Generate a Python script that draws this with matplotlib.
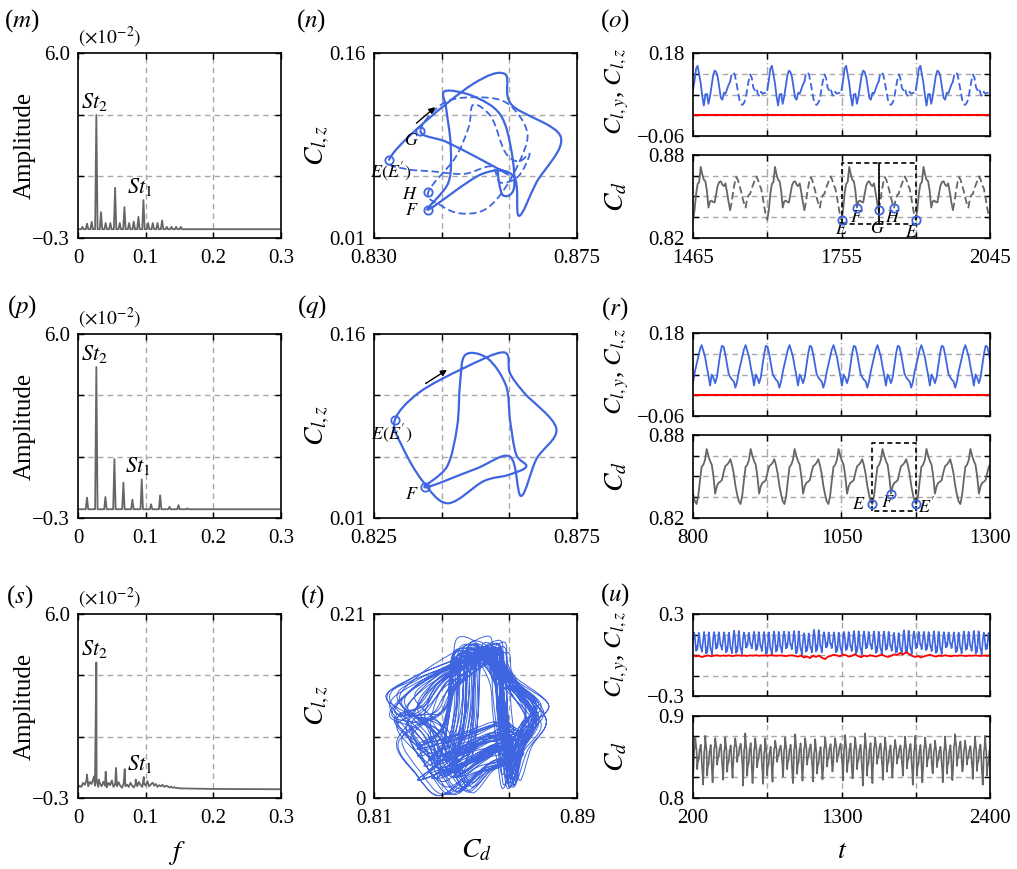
import numpy as np
import matplotlib.pyplot as plt
from matplotlib.path import Path
from matplotlib.patches import PathPatch

plt.rcParams['font.family'] = ['Liberation Serif', 'DejaVu Serif']
plt.rcParams['mathtext.fontset'] = 'stix'

blue = '#3f66e0'
grey = '#666666'
gridc = '#a8a8a8'

# ---------------- data ----------------
# (m) spectrum peaks, amplitude in units of 1e-2
f_m = [0.0064, 0.0133, 0.0202, 0.0271, 0.0340, 0.0409, 0.0478, 0.0548, 0.0617, 0.0686, 0.0755,
       0.0824, 0.0893, 0.0967, 0.1036, 0.1105, 0.1174, 0.1243, 0.1312, 0.1381, 0.1450, 0.1519]
a_m = [0.08, 0.19, 0.25, 3.89, 0.58, 0.21, 0.21, 1.41, 0.21, 0.75, 0.21,
       0.26, 0.42, 0.99, 0.21, 0.21, 0.21, 0.30, 0.08, 0.08, 0.08, 0.08]
# (p)
f_p = [0.0133, 0.0271, 0.0405, 0.0538, 0.0671, 0.0804, 0.0942, 0.1080, 0.1214, 0.1352, 0.1485, 0.1618]
a_p = [0.40, 4.87, 0.42, 1.72, 0.91, 0.33, 1.02, 0.17, 0.48, 0.08, 0.14, 0.03]
# (s) noise floor every 0.0025 from f = 0, plus the peaks
floor_s = [0.05, 0.12, 0.08, 0.22, 0.15, 0.30, 0.10, 0.25, 0.18, 0.35, 0.12, 0.28, 0.08, 0.20, 0.10,
           0.26, 0.12, 0.06, 0.22, 0.14, 0.30, 0.08, 0.18, 0.10, 0.24, 0.12, 0.05, 0.20, 0.10, 0.16,
           0.08, 0.22, 0.12, 0.06, 0.18, 0.10, 0.25, 0.14, 0.08, 0.20, 0.12, 0.28, 0.10, 0.16, 0.22,
           0.12, 0.18, 0.08, 0.14, 0.10, 0.15, 0.08, 0.12, 0.10, 0.06, 0.09, 0.05, 0.07, 0.04, 0.05, 0.03]
f_s = [0.0133, 0.0237, 0.0271, 0.0306, 0.0409, 0.0562, 0.0691, 0.0853, 0.0972, 0.1110]
a_s = [0.50, 0.44, 4.34, 0.33, 0.60, 0.73, 0.69, 0.33, 0.42, 0.21]

# (n)/(o): one period E -> G -> E' (T = 145), 48 samples
T_o = 145.0
clz_o = [0.073, 0.100, 0.135, 0.143, 0.118, 0.092, 0.055, 0.028, 0.060, 0.062, 0.033, 0.055,
         0.085, 0.115, 0.129, 0.125, 0.110, 0.080, 0.050, 0.045, 0.065, 0.062, 0.075, 0.088,
         0.0968, 0.120, 0.124, 0.118, 0.095, 0.070, 0.045, 0.032, 0.030, 0.036, 0.047, 0.075,
         0.100, 0.118, 0.108, 0.080, 0.072, 0.078, 0.060, 0.055, 0.068, 0.062, 0.064, 0.066]
cd_o = [0.8333, 0.8400, 0.8520, 0.8590, 0.8605, 0.8714, 0.8660, 0.8621, 0.8610, 0.8540, 0.8420, 0.8465,
        0.8470, 0.8460, 0.8457, 0.8520, 0.8580, 0.8605, 0.8610, 0.8585, 0.8575, 0.8595, 0.8530, 0.8460,
        0.8403, 0.8457, 0.8540, 0.8600, 0.8640, 0.8620, 0.8580, 0.8540, 0.8490, 0.8450, 0.8420, 0.8480,
        0.8510, 0.8520, 0.8560, 0.8590, 0.8620, 0.8645, 0.8620, 0.8580, 0.8560, 0.8500, 0.8430, 0.8370]
iF_o, iG_o, iH_o = 10, 24, 34

# (q)/(r): one period E -> E' (T = 74), 26 samples
T_r = 74.0
clz_r = [0.0895, 0.112, 0.132, 0.145, 0.128, 0.112, 0.083, 0.058, 0.028, 0.060, 0.050, 0.035, 0.052,
         0.085, 0.120, 0.143, 0.140, 0.118, 0.090, 0.062, 0.052, 0.045, 0.040, 0.022, 0.040, 0.068]
cd_r = [0.8301, 0.8360, 0.8470, 0.8570, 0.8585, 0.8620, 0.8699, 0.8650, 0.8612, 0.8585, 0.8500, 0.8376, 0.8430,
        0.8455, 0.8462, 0.8475, 0.8530, 0.8575, 0.8585, 0.8600, 0.8625, 0.8580, 0.8520, 0.8432, 0.8370, 0.8320]
iF_r = 11

# (t)/(u): every cycle of the (r) period with its own amplitude and level
cd_gain = [1.2, 1.5, 1.0, 1.3, 0.9, 1.6, 1.1, 1.4, 0.8, 1.2, 1.5, 1.0, 1.3, 1.1, 0.9, 1.4,
           1.2, 1.6, 1.0, 1.3, 0.9, 1.2, 1.5, 1.1, 1.0, 1.4, 1.2, 0.9, 1.3, 1.5, 1.1]
cd_shift = [0.0, -0.004, 0.003, -0.002, 0.005, -0.003, 0.001, -0.005, 0.004, 0.0, -0.002, 0.003,
            -0.004, 0.002, 0.005, -0.001, 0.0, -0.003, 0.004, -0.002, 0.003, 0.001, -0.004, 0.002,
            0.0, -0.003, 0.004, 0.002, -0.001, -0.004, 0.001]
clz_gain = [1.15, 1.35, 1.05, 1.25, 1.4, 0.95, 1.15, 1.35, 1.25, 1.05, 1.4, 1.15, 1.35, 0.95, 1.25, 1.15,
            1.4, 1.05, 1.35, 1.15, 1.25, 1.4, 1.05, 1.15, 1.35, 0.95, 1.25, 1.15, 1.4, 1.05, 1.35]
clz_shift = [0.005, -0.004, 0.015, 0.0, 0.002, 0.018, 0.010, -0.004, 0.005, 0.018, 0.0, 0.0, 0.012,
             0.020, 0.0, 0.010, 0.0, 0.018, 0.0, 0.012, -0.004, 0.004, 0.018, 0.010, 0.0, 0.020,
             0.0, 0.012, 0.0, 0.010, 0.004]
cly_u = [-0.004, -0.010, -0.006, -0.015, -0.008, -0.003, -0.009, -0.005, -0.002, -0.007,
         -0.004, -0.006, -0.003, -0.008, -0.005, -0.002, -0.006, -0.004, -0.007, -0.003,
         -0.005, -0.002, -0.006, -0.004, -0.003, -0.005, -0.002, -0.004, -0.006, -0.003,
         -0.005, -0.008, -0.004, -0.002, -0.007, -0.012, -0.004, -0.018, -0.010, -0.022,
         -0.006, -0.014, -0.004, -0.020, -0.030, -0.012, -0.006, 0.002, -0.004, -0.010,
         0.004, -0.002, -0.012, -0.006, 0.006, -0.008, -0.016, -0.004, -0.010, -0.002,
         -0.006, -0.012, -0.004, 0.002, -0.008, -0.014, -0.006, 0.004, 0.000, 0.014,
         0.004, 0.020, 0.008, -0.006, -0.014, -0.008, -0.018, -0.010, -0.004, 0.002,
         -0.006, -0.012, -0.004, -0.008, -0.002, -0.006, -0.010, -0.004, -0.007, -0.003,
         -0.005, -0.008, -0.004, -0.006, -0.003, -0.005, -0.007, -0.004, -0.006, -0.005]

# ---------------- figure ----------------
W, H = 1017, 869
fig = plt.figure(figsize=(W / 100, H / 100), dpi=100)


def axes_px(x0, y0, x1, y1):
    return fig.add_axes([x0 / W, 1 - y1 / H, (x1 - x0) / W, (y1 - y0) / H])


def frame(ax, xlim, ylim, nx, ny, xlab, ylab, vls=(0, (4, 3))):
    xt = np.linspace(xlim[0], xlim[1], nx + 1)
    yt = np.linspace(ylim[0], ylim[1], ny + 1)
    for v in xt[1:-1]:
        ax.axvline(v, color=gridc, ls=vls, lw=1.0, zorder=0)
    for v in yt[1:-1]:
        ax.axhline(v, color=gridc, ls=(0, (4, 3)), lw=1.0, zorder=0)
    ax.set_xlim(xlim)
    ax.set_ylim(ylim)
    ax.set_xticks(xt)
    ax.set_yticks(yt)
    ax.set_xticklabels(xlab)
    ax.set_yticklabels(ylab)
    ax.tick_params(direction='in', top=True, right=True, length=4, width=1, labelsize=15, pad=6)
    ax.tick_params(axis='x', pad=8)
    for s in ax.spines.values():
        s.set_linewidth(1.2)


def ftext(x, y, s, size=18, rot=0):
    fig.text(x / W, 1 - y / H, s, fontsize=size, rotation=rot, ha='center', va='center')


def mark(ax, x, y, label, dx, dy):
    ax.plot(x, y, 'o', mfc='none', mec=blue, ms=6, mew=1.3, zorder=5)
    ax.annotate(label, (x, y), xytext=(dx, dy), textcoords='offset pixels',
                ha='center', va='center', fontsize=13)


def smooth(ax, x, y, segs, closed, **kw):
    # draw the points joined by Catmull-Rom curves (the curve passes through every point)
    P = np.column_stack([x, y])
    n = len(P)

    def pt(i):
        return P[i % n] if closed else P[min(max(i, 0), n - 1)]
    verts = [pt(segs[0])]
    codes = [Path.MOVETO]
    for i in segs:
        p0, p1, p2, p3 = pt(i - 1), pt(i), pt(i + 1), pt(i + 2)
        verts += [p1 + (p2 - p0) / 6, p2 - (p3 - p1) / 6, p2]
        codes += [Path.CURVE4] * 3
    ax.add_patch(PathPatch(Path(verts, codes), fill=False, **kw))


M = '\u2212'
spec_y = [M + '0.3', '', '', '6.0']
spec_x = ['0', '0.1', '0.2', '0.3']
w = 0.0018

# ---- spectra ----
rows = [(53, 238), (334, 518), (614, 798)]
spectra = []
for f, a in [(f_m, a_m), (f_p, a_p)]:
    f = np.asarray(f)
    a = np.asarray(a)
    xs = np.column_stack([f - w, f, f + w]).ravel()
    ys = np.column_stack([np.zeros_like(a), a, np.zeros_like(a)]).ravel()
    spectra.append((np.r_[0, xs, 0.3], np.r_[0, ys, 0], f, a))
ff = np.arange(len(floor_s)) * 0.0025
xs = np.r_[ff, f_s, 0.2, 0.3]
ys = np.r_[floor_s, a_s, 0.01, 0.0]
order = np.argsort(xs)
spectra.append((xs[order], ys[order], np.asarray(f_s), np.asarray(a_s)))

st_idx = [(3, 13), (1, 6), (2, 8)]
for (y0, y1), (xs, ys, fpk, apk), (i2, i1) in zip(rows, spectra, st_idx):
    ax = axes_px(78, y0, 281, y1)
    frame(ax, (0, 0.3), (-0.3, 6.0), 3, 3, spec_x, spec_y)
    ax.plot(xs, ys, color=grey, lw=1.3)
    ax.text(0, 1.015, r'$(\times10^{-2})$', transform=ax.transAxes, ha='left', va='bottom', fontsize=14)
    ax.annotate(r'$St_2$', (fpk[i2], apk[i2]), xytext=(-2, 2), textcoords='offset pixels',
                ha='center', va='bottom', fontsize=16)
    ax.annotate(r'$St_1$', (fpk[i1], apk[i1]), xytext=(-4, 2), textcoords='offset pixels',
                ha='center', va='bottom', fontsize=16)
    ftext(25, (y0 + y1) / 2, 'Amplitude', rot=90)
ftext(177, 853, r'$f$', size=20)

# ---- (n) phase portrait ----
n_o = len(cd_o)
ax = axes_px(374, 53, 577, 238)
frame(ax, (0.830, 0.875), (0.01, 0.16), 3, 3, ['0.830', '', '', '0.875'], ['0.01', '', '', '0.16'])
smooth(ax, cd_o, clz_o, list(range(0, iG_o)), True, edgecolor=blue, lw=1.6)
smooth(ax, cd_o, clz_o, list(range(iG_o, n_o)), True, edgecolor=blue, lw=1.3, linestyle=(0, (4, 2)))
mark(ax, cd_o[0], clz_o[0], r"$E(E')$", 2, -12)
mark(ax, cd_o[iG_o], clz_o[iG_o], r'$G$', -9, -10)
mark(ax, cd_o[iH_o], clz_o[iH_o], r'$H$', -18, -2)
mark(ax, cd_o[iF_o], clz_o[iF_o], r'$F$', -16, -1)
ax.annotate('', xy=(0.84403, 0.1176), xytext=(0.83893, 0.1016),
            arrowprops=dict(arrowstyle='-|>', color='k', lw=1.0, mutation_scale=9))

# ---- (q) phase portrait ----
n_r = len(cd_r)
ax = axes_px(374, 334, 577, 518)
frame(ax, (0.825, 0.875), (0.01, 0.16), 3, 3, ['0.825', '', '', '0.875'], ['0.01', '', '', '0.16'])
smooth(ax, cd_r, clz_r, list(range(n_r)), True, edgecolor=blue, lw=1.6)
mark(ax, cd_r[0], clz_r[0], r"$E(E')$", -3, -13)
mark(ax, cd_r[iF_r], clz_r[iF_r], r'$F$', -13, -7)
ax.annotate('', xy=(0.84355, 0.1320), xytext=(0.83714, 0.1184),
            arrowprops=dict(arrowstyle='-|>', color='k', lw=1.0, mutation_scale=9))

# ---- (t)/(u) data built from the (r) cycle ----
n_cyc = len(cd_gain)
cd_u = 0.85 + np.repeat(cd_gain, n_r) * (np.tile(cd_r, n_cyc) - 0.85) + np.repeat(cd_shift, n_r)
clz_u = 0.085 + np.repeat(clz_gain, n_r) * (np.tile(clz_r, n_cyc) - 0.08) + np.repeat(clz_shift, n_r)
t_u = 200 + np.arange(n_r * n_cyc) * T_r / n_r

ax = axes_px(374, 614, 577, 798)
frame(ax, (0.81, 0.89), (0.0, 0.21), 3, 3, ['0.81', '', '', '0.89'], ['0', '', '', '0.21'])
smooth(ax, cd_u, clz_u, list(range(len(cd_u) - 1)), False, edgecolor=blue, lw=0.7)
ftext(476, 851, r'$C_d$', size=20)

for yc in [145.5, 426, 706]:
    ftext(318, yc, r'$C_{l,z}$', size=20, rot=90)

# ---- time series ----
dd = (0, (6, 2, 1, 2))
# (o)
t_o = 1465 + np.arange(4 * n_o + 1) * T_o / n_o
clz_of = np.append(np.tile(clz_o, 4), clz_o[0])
cd_of = np.append(np.tile(cd_o, 4), cd_o[0])
axu = axes_px(693, 53, 990, 136)
frame(axu, (1465, 2045), (-0.06, 0.18), 4, 4, [''] * 5, [M + '0.06', '', '', '', '0.18'], vls=dd)
axl = axes_px(693, 155, 990, 238)
frame(axl, (1465, 2045), (0.82, 0.88), 4, 4, ['1465', '', '1755', '', '2045'],
      ['0.82', '', '', '', '0.88'], vls=dd)
axu.plot(t_o, np.zeros_like(t_o), color='red', lw=1.5)
for k in range(4):
    s = slice(k * n_o, k * n_o + iG_o + 1)
    d = slice(k * n_o + iG_o, (k + 1) * n_o + 1)
    axu.plot(t_o[s], clz_of[s], color=blue, lw=1.3)
    axu.plot(t_o[d], clz_of[d], color=blue, lw=1.3, dashes=(4, 2))
    axl.plot(t_o[s], cd_of[s], color=grey, lw=1.3)
    axl.plot(t_o[d], cd_of[d], color=grey, lw=1.3, dashes=(4, 2))
k0 = 2 * n_o
for a, b in [(k0, k0 + iG_o), (k0 + iG_o, k0 + n_o)]:
    axl.plot([t_o[a], t_o[a], t_o[b], t_o[b], t_o[a]], [0.830, 0.8745, 0.8745, 0.830, 0.830],
             color='k', lw=1.2, dashes=(3, 2))
mark(axl, t_o[k0], cd_of[k0], r'$E$', 0, -10)
mark(axl, t_o[k0 + iF_o], cd_of[k0 + iF_o], r'$F$', 0, -10)
mark(axl, t_o[k0 + iG_o], cd_of[k0 + iG_o], r'$G$', -1, -19)
mark(axl, t_o[k0 + iH_o], cd_of[k0 + iH_o], r'$H$', -1, -10)
mark(axl, t_o[k0 + n_o], cd_of[k0 + n_o], r"$E'$", -2, -12)

# (r)
reps = 8
t_r = 732 + np.arange(reps * n_r + 1) * T_r / n_r
clz_rf = np.append(np.tile(clz_r, reps), clz_r[0])
cd_rf = np.append(np.tile(cd_r, reps), cd_r[0])
axu = axes_px(693, 333, 990, 416)
frame(axu, (800, 1300), (-0.06, 0.18), 4, 4, [''] * 5, [M + '0.06', '', '', '', '0.18'], vls=dd)
axl = axes_px(693, 435, 990, 518)
frame(axl, (800, 1300), (0.82, 0.88), 4, 4, ['800', '', '1050', '', '1300'],
      ['0.82', '', '', '', '0.88'], vls=dd)
axu.plot(t_r, np.zeros_like(t_r), color='red', lw=1.5)
axu.plot(t_r, clz_rf, color=blue, lw=1.3)
axl.plot(t_r, cd_rf, color=grey, lw=1.3)
k0 = 5 * n_r
axl.plot([t_r[k0], t_r[k0], t_r[k0 + n_r], t_r[k0 + n_r], t_r[k0]], [0.825, 0.874, 0.874, 0.825, 0.825],
         color='k', lw=1.2, dashes=(3, 2))
mark(axl, t_r[k0], cd_rf[k0], r'$E$', -14, 0)
mark(axl, t_r[k0 + iF_r], cd_rf[k0 + iF_r], r'$F$', -3, -9)
mark(axl, t_r[k0 + n_r], cd_rf[k0 + n_r], r"$E'$", 10, -2)

# (u)
axu = axes_px(693, 614, 990, 696)
frame(axu, (200, 2400), (-0.3, 0.3), 4, 4, [''] * 5, [M + '0.3', '', '', '', '0.3'])
axl = axes_px(693, 716, 990, 798)
frame(axl, (200, 2400), (0.8, 0.9), 4, 4, ['200', '', '1300', '', '2400'],
      ['0.8', '', '', '', '0.9'])
axu.plot(t_u, clz_u, color=blue, lw=1.2)
axu.plot(np.linspace(200, 2400, len(cly_u)), cly_u, color='red', lw=1.3)
axl.plot(t_u, cd_u, color=grey, lw=1.2)
ftext(842, 852, r'$t$', size=20)

for yu, yl in [(92, 196.5), (372, 476.5), (655, 757)]:
    ftext(617, yu, r'$C_{l,y}$, $C_{l,z}$', size=18, rot=90)
    ftext(617, yl, r'$C_d$', size=20, rot=90)

# panel labels
for x, y, s in [(22, 21, 'm'), (311, 21, 'n'), (615, 21, 'o'),
                (22, 307, 'p'), (312, 307, 'q'), (615, 309, 'r'),
                (20, 597, 's'), (312, 597, 't'), (615, 595, 'u')]:
    ftext(x, y, '($' + s + '$)', size=18)

fig.savefig('out.png', dpi=100)
